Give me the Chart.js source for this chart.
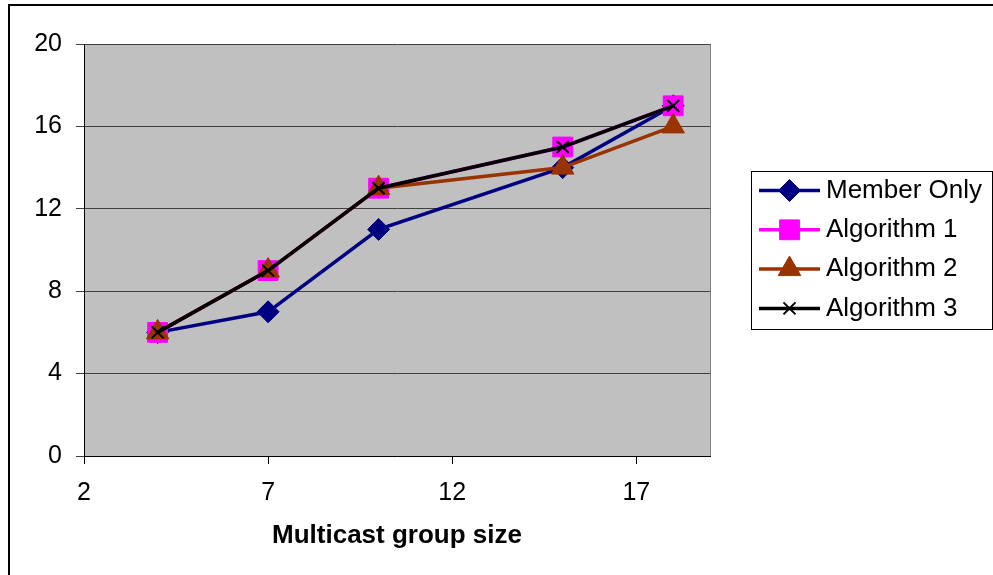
<!DOCTYPE html>
<html lang="en">
<head>
  <meta charset="UTF-8">
  <title>Multicast group size</title>
  <script src="https://cdn.jsdelivr.net/npm/chart.js"></script>
  <style>
    body { margin: 0; background: #fff; }
  </style>
</head>
<body>
  <canvas id="graf" width="993" height="575"></canvas>

  <script>
    /* --- Datos --- */
    const groupSize    = [4, 7, 10, 15, 18];
    const memberOnly   = [6, 7, 11, 14, 17];
    const algorithm1   = [6, 9, 13, 15, 17];
    const algorithm2   = [6, 9, 13, 14, 16];
    const algorithm3   = [6, 9, 13, 15, 17];
    const xTicks       = [2, 7, 12, 17];
    const yTicks       = [0, 4, 8, 12, 16, 20];
    const seriesNames  = ['Member Only', 'Algorithm 1', 'Algorithm 2', 'Algorithm 3'];

    const FONT = '"Liberation Sans", Arial, sans-serif';
    const pts = vals => groupSize.map((x, i) => ({ x, y: vals[i] }));

    const estilos = [
      { color: '#000080', style: 'rectRot',  radius: 11 },
      { color: '#FF00FF', style: 'rect',     radius: 14 },
      { color: '#993300', style: 'triangle', radius: 13 },
      { color: '#000000', style: 'crossRot', radius: 8.5 },
    ];
    const valores = [memberOnly, algorithm1, algorithm2, algorithm3];

    const datasets = seriesNames.map((name, i) => ({
      label: name,
      data: pts(valores[i]),
      borderColor: estilos[i].color,
      backgroundColor: estilos[i].color,
      borderWidth: 3.5,
      pointStyle: estilos[i].style,
      pointRadius: estilos[i].radius,
      pointBackgroundColor: estilos[i].color,
      pointBorderColor: estilos[i].color,
      pointBorderWidth: estilos[i].style === 'crossRot' ? 2 : 1,
      order: seriesNames.length - 1 - i,   // la última serie queda encima
      tension: 0,
    }));

    /* fondo gris del área de trazado + borde exterior */
    const marco = {
      id: 'marco',
      beforeDraw(chart) {
        const { ctx, chartArea: a } = chart;
        ctx.save();
        ctx.fillStyle = '#C0C0C0';
        ctx.fillRect(a.left, a.top, a.right - a.left, a.bottom - a.top);
        ctx.strokeStyle = '#808080';
        ctx.lineWidth = 1;
        ctx.beginPath();
        ctx.moveTo(a.right + 0.5, a.top);
        ctx.lineTo(a.right + 0.5, a.bottom);
        ctx.stroke();
        // borde del gráfico (sale por la derecha y por abajo)
        ctx.strokeStyle = '#000';
        ctx.lineWidth = 2;
        ctx.beginPath();
        ctx.moveTo(9, 2000);
        ctx.lineTo(9, 5);
        ctx.lineTo(2000, 5);
        ctx.stroke();
        ctx.restore();
      }
    };

    /* leyenda con recuadro, línea y marcador */
    const leyenda = {
      id: 'leyenda',
      afterDraw(chart) {
        const { ctx } = chart;
        const box = { x: 751, y: 171, w: 241, h: 158 };
        const rowH = 39.3, y0 = 190.5;
        ctx.save();
        ctx.fillStyle = '#fff';
        ctx.fillRect(box.x, box.y, box.w, box.h);
        ctx.strokeStyle = '#000';
        ctx.lineWidth = 1;
        ctx.strokeRect(box.x + 0.5, box.y + 0.5, box.w, box.h);
        ctx.font = '26px ' + FONT;
        ctx.textBaseline = 'middle';
        chart.data.datasets.forEach((ds, i) => {
          const y = y0 + i * rowH;
          ctx.strokeStyle = ds.borderColor;
          ctx.lineWidth = 3.5;
          ctx.beginPath();
          ctx.moveTo(759, y);
          ctx.lineTo(820, y);
          ctx.stroke();
          if (Chart.helpers && Chart.helpers.drawPoint) {
            ctx.fillStyle = ds.pointBackgroundColor;
            ctx.strokeStyle = ds.pointBorderColor;
            ctx.lineWidth = ds.pointBorderWidth;
            Chart.helpers.drawPoint(ctx, {
              pointStyle: ds.pointStyle, radius: ds.pointRadius,
              rotation: 0, borderWidth: ds.pointBorderWidth
            }, 789.5, y);
          }
          ctx.fillStyle = '#000';
          ctx.fillText(ds.label, 826, y);
        });
        ctx.restore();
      }
    };

    new Chart(document.getElementById('graf'), {
      type: 'line',
      data: { datasets },
      options: {
        responsive: false,
        animation: false,
        layout: { padding: { left: 0, top: 44, right: 283, bottom: 0 } },
        plugins: {
          legend: { display: false },
          tooltip: { enabled: false },
        },
        scales: {
          x: {
            type: 'linear',
            min: 2, max: 19,
            afterBuildTicks: s => { s.ticks = xTicks.map(v => ({ value: v })); },
            afterFit: s => { s.height = 119; },
            grid: { drawOnChartArea: false, drawTicks: true, tickLength: 8, color: '#000' },
            border: { display: true, color: '#000', width: 1 },
            ticks: { color: '#000', padding: 14, maxRotation: 0, font: { family: FONT, size: 25 } },
            title: {
              display: true, text: 'Multicast group size', color: '#000',
              font: { family: FONT, size: 26, weight: 'bold' },
              padding: { top: 0, bottom: 24 }
            }
          },
          y: {
            min: 0, max: 20,
            afterBuildTicks: s => { s.ticks = yTicks.map(v => ({ value: v })); },
            afterFit: s => { s.width = 84; },
            grid: { color: '#404040', lineWidth: 1, tickLength: 8, drawTicks: true },
            border: { display: true, color: '#000', width: 1 },
            ticks: { color: '#000', padding: 14, font: { family: FONT, size: 25 } }
          }
        }
      },
      plugins: [marco, leyenda]
    });
  </script>
</body>
</html>
